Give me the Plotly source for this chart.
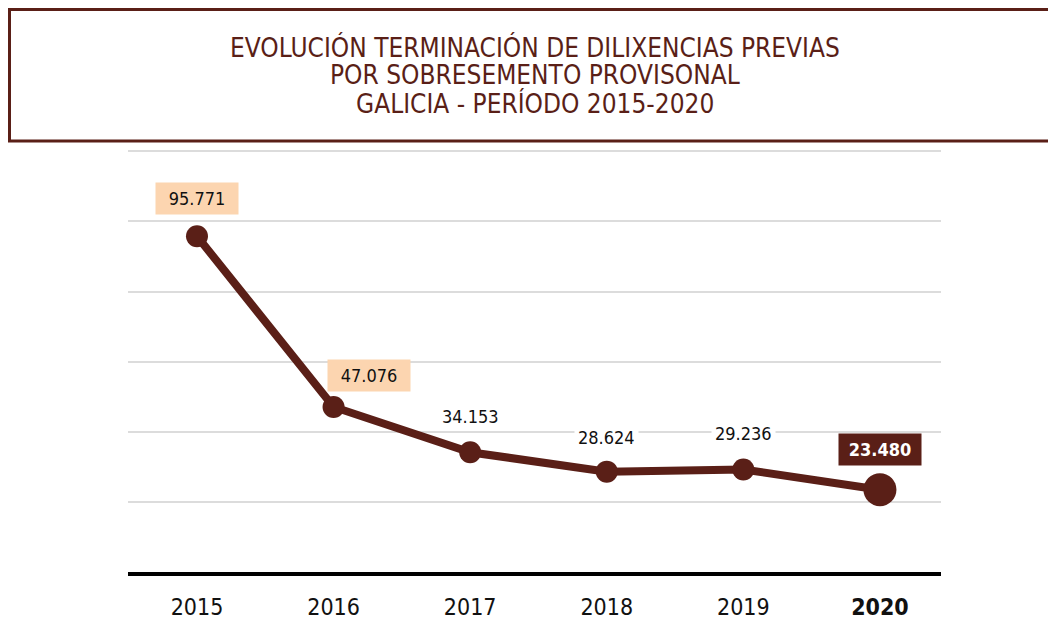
import plotly.graph_objects as go

# ---- data ----
years = ["2015", "2016", "2017", "2018", "2019", "2020"]
values = [95771, 47076, 34153, 28624, 29236, 23480]
title_lines = ["EVOLUCIÓN TERMINACIÓN DE DILIXENCIAS PREVIAS",
               "POR SOBRESEMENTO PROVISONAL",
               "GALICIA - PERÍODO 2015-2020"]

# ---- styles ----
BROWN = "#5a1f17"
PEACH = "#fcd5b0"
FONT = "DejaVu Sans Condensed, Liberation Sans Narrow, sans-serif"
label_bg = [PEACH, PEACH, "rgba(0,0,0,0)", "white", "white", BROWN]
label_fg = ["#111111"] * 5 + ["white"]
label_bold = [False] * 5 + [True]
label_dx = [0, 35, 0, 0, 0, 0]
label_dy = [38, 31, 36, 34, 36, 40]
marker_sizes = [22, 22, 22, 22, 22, 33]
title_line_y = [39, 67, 95]

W, H = 1056, 620
L, R, T, B = 120, 123, 138, 56
pw, ph = W - L - R, H - T - B


def px_to_paper_x(px):
    return (px - L) / pw


def px_to_paper_y(py):
    return (H - B - py) / ph


def fmt(v):
    return f"{v:,}".replace(",", ".")


fig = go.Figure()
fig.add_trace(go.Scatter(
    x=list(range(len(years))), y=values, mode="lines+markers",
    line=dict(color=BROWN, width=8),
    marker=dict(color=BROWN, size=marker_sizes, opacity=1,
                line=dict(width=0)),
    hoverinfo="skip", showlegend=False,
))

for i, v in enumerate(values):
    txt = fmt(v)
    if label_bold[i]:
        txt = f"<b>{txt}</b>"
    boxed = label_bg[i] in (PEACH, BROWN)
    fig.add_annotation(
        x=i, y=v, xref="x", yref="y", text=txt, showarrow=False,
        xshift=label_dx[i], yshift=label_dy[i],
        font=dict(family=FONT, size=18, color=label_fg[i]),
        bgcolor=label_bg[i], borderpad=5 if boxed else 3,
        width=72 if boxed else None,
    )

# title box
fig.add_shape(type="rect", xref="paper", yref="paper",
              x0=px_to_paper_x(1.5), x1=px_to_paper_x(1070),
              y0=px_to_paper_y(133), y1=px_to_paper_y(1.5),
              line=dict(color=BROWN, width=3), fillcolor="white", layer="below")
for line, ly in zip(title_lines, title_line_y):
    fig.add_annotation(xref="paper", yref="paper",
                       x=px_to_paper_x(527), y=px_to_paper_y(ly),
                       text=line, showarrow=False,
                       font=dict(family=FONT, size=26, color=BROWN),
                       xanchor="center", yanchor="middle")

ticktext = years[:-1] + [f"<b>{years[-1]}</b>"]
fig.update_xaxes(range=[-0.505, 5.447], tickmode="array",
                 tickvals=list(range(len(years))), ticktext=ticktext,
                 showgrid=False, zeroline=False, showline=True,
                 linecolor="black", linewidth=4, ticks="",
                 tickfont=dict(family=FONT, size=23, color="#111111"),
                 ticklabelstandoff=11, automargin=False, fixedrange=True)
fig.update_yaxes(range=[0, 121500], dtick=20000, showgrid=True,
                 gridcolor="#dcdcdc", gridwidth=1.5, zeroline=False,
                 showticklabels=False, showline=False, automargin=False,
                 fixedrange=True)

fig.update_layout(width=W, height=H, margin=dict(l=L, r=R, t=T, b=B),
                  paper_bgcolor="white", plot_bgcolor="white",
                  showlegend=False)
fig.write_html("out.html")
